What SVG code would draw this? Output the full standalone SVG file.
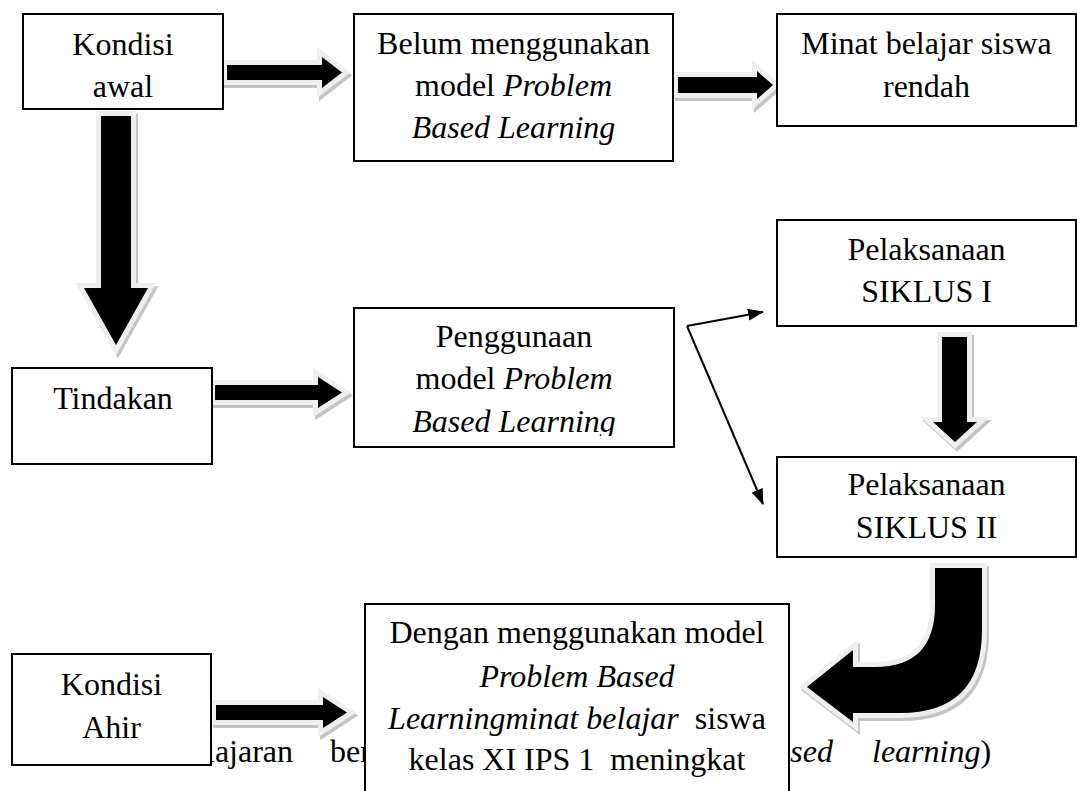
<svg xmlns="http://www.w3.org/2000/svg" xmlns:xlink="http://www.w3.org/1999/xlink" width="1077" height="791" viewBox="0 0 1077 791">
<style>
text{font-family:"Liberation Serif","Times New Roman",serif;font-size:32px;fill:#000;text-anchor:middle}
.it{font-style:italic}
.bg{text-anchor:start}
.box{fill:#fff;stroke:#000;stroke-width:2}
.sh{fill:#c4c4c4;stroke:#c4c4c4;stroke-width:10;stroke-linejoin:miter;stroke-miterlimit:10}
.bd{fill:#efefef;stroke:#efefef;stroke-width:10;stroke-linejoin:miter;stroke-miterlimit:10}
.blk{fill:#000}
.thin{fill:none;stroke:#000;stroke-width:2}
</style>
<defs>
<marker id="ah" viewBox="0 0 16 12" refX="15" refY="6" markerWidth="16" markerHeight="12" markerUnits="userSpaceOnUse" orient="auto">
<path d="M0,0 L16,6 L0,12 Z" fill="#000"/>
</marker>
<path id="a1" d="M227,65 L322,65 L322,57 L342,72.5 L322,88 L322,80 L227,80 Z"/>
<path id="a2" d="M678,77 L757,77 L757,71 L773,85 L757,99 L757,93 L678,93 Z"/>
<path id="a3" d="M215,385 L318,385 L318,377 L342,392.5 L318,408 L318,400 L215,400 Z"/>
<path id="a4" d="M216,705 L323,705 L323,697 L347,712.5 L323,728 L323,720 L216,720 Z"/>
<path id="v1" d="M101,116 L131,116 L131,288 L148,288 L116,345 L84,288 L101,288 Z"/>
<path id="v2" d="M942,337 L967,337 L967,422 L977,422 L955,442 L933,422 L942,422 Z"/>
<path id="cv" d="M935,568 L982,568 L982,630 Q982,713 900,713 L853,713 L853,722 L807,687 L853,650 L853,667 L875,667 Q935,667 935,605 Z"/>
<clipPath id="c5"><rect x="354" y="308" width="320" height="128"/></clipPath>
</defs>

<g id="background-text">
<text class="bg" x="206" y="762">lajaran</text>
<text class="bg" x="330" y="762">ber</text>
<text x="833" y="762" style="text-anchor:end" class="it">ased</text>
<text class="bg" x="872" y="762"><tspan class="it">learning</tspan>)</text>
</g>

<g id="connectors">
<g transform="translate(2,3)">
<use xlink:href="#a1" class="sh"/><use xlink:href="#a2" class="sh"/><use xlink:href="#a3" class="sh"/><use xlink:href="#a4" class="sh"/>
<use xlink:href="#v1" class="sh"/><use xlink:href="#v2" class="sh"/><use xlink:href="#cv" class="sh"/>
</g>
<use xlink:href="#a1" class="bd"/><use xlink:href="#a2" class="bd"/><use xlink:href="#a3" class="bd"/><use xlink:href="#a4" class="bd"/>
<use xlink:href="#v1" class="bd"/><use xlink:href="#v2" class="bd"/><use xlink:href="#cv" class="bd"/>
<use xlink:href="#a1" class="blk"/><use xlink:href="#a2" class="blk"/><use xlink:href="#a3" class="blk"/><use xlink:href="#a4" class="blk"/>
<use xlink:href="#v1" class="blk"/><use xlink:href="#v2" class="blk"/><use xlink:href="#cv" class="blk"/>
<line class="thin" x1="687" y1="326" x2="763" y2="312" marker-end="url(#ah)"/>
<line class="thin" x1="687" y1="326" x2="763" y2="504" marker-end="url(#ah)"/>
</g>

<g id="kondisi-awal">
<rect class="box" x="23" y="14" width="200" height="95"/>
<text x="123" y="55">Kondisi</text>
<text x="123" y="97">awal</text>
</g>

<g id="belum">
<rect class="box" x="354" y="14" width="319" height="147"/>
<text x="513.5" y="54">Belum menggunakan</text>
<text x="513.5" y="96">model <tspan class="it">Problem</tspan></text>
<text x="513.5" y="138" class="it">Based Learning</text>
</g>

<g id="minat-rendah">
<rect class="box" x="777" y="14" width="299" height="112"/>
<text x="926.5" y="54">Minat belajar siswa</text>
<text x="926.5" y="97">rendah</text>
</g>

<g id="tindakan">
<rect class="box" x="12" y="368" width="200" height="96"/>
<text x="113" y="409">Tindakan</text>
</g>

<g id="penggunaan">
<rect class="box" x="354" y="308" width="320" height="139"/>
<g clip-path="url(#c5)">
<text x="514" y="347">Penggunaan</text>
<text x="514" y="389">model <tspan class="it">Problem</tspan></text>
<text x="514" y="432" class="it">Based Learning</text>
</g>
</g>

<g id="siklus-1">
<rect class="box" x="777" y="220" width="299" height="106"/>
<text x="926.5" y="260">Pelaksanaan</text>
<text x="926.5" y="302">SIKLUS I</text>
</g>

<g id="siklus-2">
<rect class="box" x="777" y="457" width="299" height="100"/>
<text x="926.5" y="495">Pelaksanaan</text>
<text x="926.5" y="538">SIKLUS II</text>
</g>

<g id="kondisi-ahir">
<rect class="box" x="12" y="654" width="199" height="111"/>
<text x="111.5" y="695">Kondisi</text>
<text x="111.5" y="738">Ahir</text>
</g>

<g id="dengan">
<rect class="box" x="365" y="604" width="424" height="200"/>
<text x="577" y="643">Dengan menggunakan model</text>
<text x="577" y="687" class="it">Problem Based</text>
<text x="577" y="729" xml:space="preserve"><tspan class="it">Learningminat belajar</tspan>  siswa</text>
<text x="577" y="770" xml:space="preserve">kelas XI IPS 1  meningkat</text>
</g>
</svg>
